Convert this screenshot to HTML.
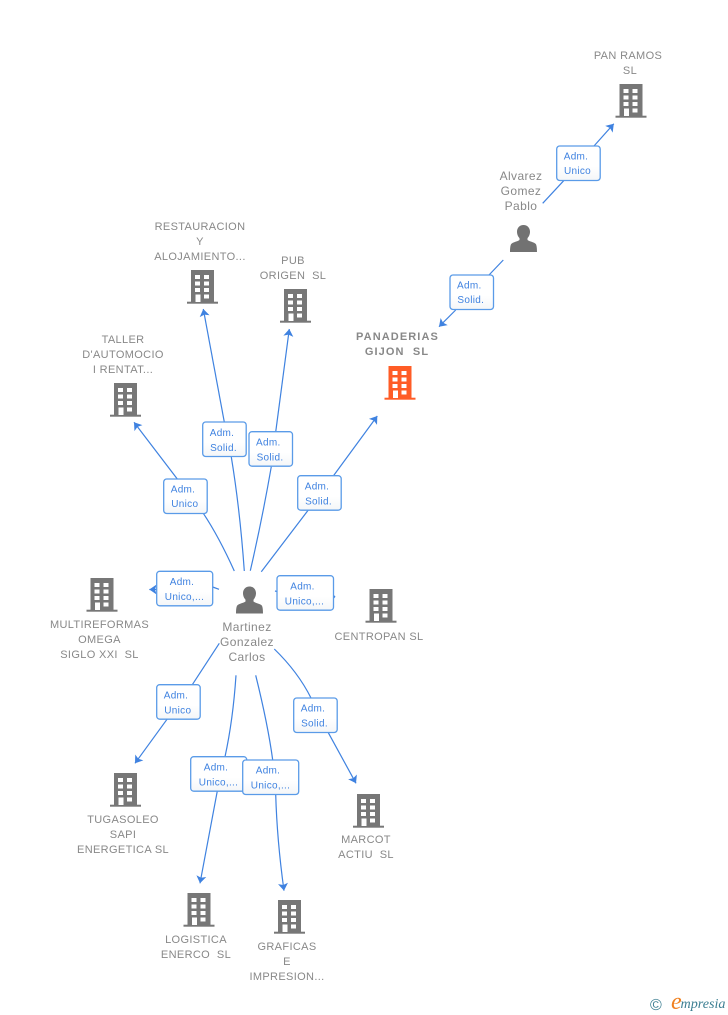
<!DOCTYPE html>
<html>
<head>
<meta charset="utf-8">
<style>
html,body{margin:0;padding:0;background:#fff;width:728px;height:1015px;overflow:hidden}
svg{display:block}
text{font-family:"Liberation Sans",sans-serif}
.n{font-size:11px;fill:#888;text-anchor:middle;letter-spacing:.35px}
.p{font-size:12px;fill:#888;text-anchor:middle;letter-spacing:.4px}
.b{font-weight:bold;letter-spacing:1.1px}
.l{font-size:10px;fill:#3f82e0;text-anchor:middle;letter-spacing:.3px}
.c{fill:none;stroke:#3f82e0;stroke-width:1.2}
.a{marker-end:url(#ah)}
.x{fill:url(#g);stroke:#5a9be8;stroke-width:1.3}
</style>
</head>
<body>
<svg width="728" height="1015" viewBox="0 0 728 1015" xmlns="http://www.w3.org/2000/svg">
<defs>
<linearGradient id="g" x1="0" y1="0" x2="0" y2="1"><stop offset="0" stop-color="#fff"/><stop offset=".6" stop-color="#fff"/><stop offset="1" stop-color="#f4f6f8"/></linearGradient>
<marker id="ah" markerUnits="userSpaceOnUse" markerWidth="12" markerHeight="12" refX="9.5" refY="6" orient="auto" viewBox="0 0 12 12"><path d="M9.5,6 L2.2,1 L3.8,6 L2.2,11 Z" fill="#3f82e0"/></marker>
<symbol id="bd" width="32" height="34" viewBox="0 0 32 34" overflow="visible">
<rect x="4.5" y="0" width="23" height="32.5" fill="currentColor"/>
<rect x="0.5" y="31.7" width="31" height="2" fill="currentColor"/>
<g fill="#fff">
<rect x="8.5" y="5" width="5" height="4"/><rect x="17.5" y="5" width="5" height="4"/>
<rect x="8.5" y="11.5" width="5" height="4"/><rect x="17.5" y="11.5" width="5" height="4"/>
<rect x="8.5" y="18" width="5" height="4"/><rect x="17.5" y="18" width="5" height="4"/>
<rect x="9" y="24.5" width="5" height="7.5"/><rect x="17.5" y="24.5" width="5" height="4"/>
</g>
</symbol>
<symbol id="pr" width="27" height="27" viewBox="0 0 27 27">
<path d="M13.5,0 C17.5,0 20,3 20,6.8 C20,10 18.5,12 17.5,13.2 L17.5,15 C20,16.8 24,17 25.8,19 C26.8,20.5 27,24 27,27 L0,27 C0,24 .2,20.5 1.2,19 C3,17 7,16.8 9.5,15 L9.5,13.2 C8.5,12 7,10 7,6.8 C7,3 9.5,0 13.5,0 Z" fill="#727272"/>
</symbol>
</defs>

<!-- connectors -->
<path class="c" d="M542.7,203.3 L563.7,180.7"/>
<path class="c a" d="M594,146 L613.8,123.8"/>
<path class="c" d="M503.3,260 L489,275"/>
<path class="c a" d="M455.7,310 L439,326.7"/>
<path class="c a" d="M177.3,479 L134,422.3"/>
<path class="c" d="M203.3,513.3 Q219,537 234.3,571"/>
<path class="c a" d="M224.3,422 L203.3,309"/>
<path class="c" d="M231.3,457 Q240,510 244.3,571"/>
<path class="c a" d="M275.7,432 L289.3,329"/>
<path class="c" d="M271.3,466.7 Q262,520 250.3,570.7"/>
<path class="c a" d="M333.3,476 L377.3,416"/>
<path class="c" d="M308.3,510 L261.3,571.7"/>
<path class="c" d="M212.7,587 L219,589.3"/>
<path class="c a" d="M157,589.5 L149.3,589.5"/>
<path class="c" d="M275,591 L277,591.5"/>
<path d="M333.5,594.5 L335.5,596.7 L333.5,599 Z" fill="#3f82e0"/>
<path class="c" d="M219.3,643.3 L192.3,684.7"/>
<path class="c a" d="M167,719.3 L135,763.3"/>
<path class="c" d="M236,675.3 Q233,720 225,756.7"/>
<path class="c a" d="M217.3,791 L200,883.3"/>
<path class="c" d="M255.7,675.3 Q268,725 272.7,760"/>
<path class="c a" d="M275.7,794.3 Q277,840 284,890.7"/>
<path class="c" d="M274.3,649 Q298,672 311,698"/>
<path class="c a" d="M328.3,732.7 L356,783.3"/>

<!-- connector labels -->
<rect class="x" x="556.7" y="146" width="43.5" height="34.5" rx="3"/>
<text class="l" x="576" y="159.5">Adm.</text><text class="l" x="577.5" y="174">Unico</text>
<rect class="x" x="450" y="275" width="43.5" height="34.5" rx="3"/>
<text class="l" x="469.3" y="288.5">Adm.</text><text class="l" x="470.8" y="303">Solid.</text>
<rect class="x" x="163.7" y="479" width="43.5" height="34.5" rx="3"/>
<text class="l" x="183" y="492.5">Adm.</text><text class="l" x="184.8" y="507">Unico</text>
<rect class="x" x="202.7" y="422" width="43.5" height="34.5" rx="3"/>
<text class="l" x="222" y="436">Adm.</text><text class="l" x="223.5" y="451">Solid.</text>
<rect class="x" x="249" y="431.7" width="43.5" height="34.5" rx="3"/>
<text class="l" x="268.3" y="445.5">Adm.</text><text class="l" x="270" y="460.5">Solid.</text>
<rect class="x" x="297.7" y="475.7" width="43.5" height="34.5" rx="3"/>
<text class="l" x="317" y="489.5">Adm.</text><text class="l" x="318.5" y="504.5">Solid.</text>
<rect class="x" x="156.7" y="571.3" width="56" height="34.5" rx="3"/>
<text class="l" x="182" y="585">Adm.</text><text class="l" x="184.5" y="600">Unico,...</text>
<rect class="x" x="277" y="575.7" width="56.5" height="34.5" rx="3"/>
<text class="l" x="302.5" y="589.5">Adm.</text><text class="l" x="304.5" y="604.5">Unico,...</text>
<rect class="x" x="156.7" y="684.7" width="43.5" height="34.5" rx="3"/>
<text class="l" x="176" y="698.5">Adm.</text><text class="l" x="177.8" y="713.5">Unico</text>
<rect class="x" x="293.7" y="698" width="43.5" height="34.5" rx="3"/>
<text class="l" x="313" y="711.5">Adm.</text><text class="l" x="314.5" y="726.5">Solid.</text>
<rect class="x" x="190.7" y="756.7" width="56" height="34.5" rx="3"/>
<text class="l" x="216" y="770.5">Adm.</text><text class="l" x="218.5" y="785.5">Unico,...</text>
<rect class="x" x="242.7" y="760" width="56" height="34.5" rx="3"/>
<text class="l" x="268" y="773.5">Adm.</text><text class="l" x="270.5" y="788.5">Unico,...</text>

<!-- buildings -->
<g color="#777">
<use href="#bd" x="615" y="84" width="32" height="34"/>
<use href="#bd" x="186.5" y="270" width="32" height="34"/>
<use href="#bd" x="279.5" y="289" width="32" height="34"/>
<use href="#bd" x="109.5" y="383" width="32" height="34"/>
<use href="#bd" x="86" y="578" width="32" height="34"/>
<use href="#bd" x="365" y="589" width="32" height="34"/>
<use href="#bd" x="109.5" y="773" width="32" height="34"/>
<use href="#bd" x="352.5" y="794" width="32" height="34"/>
<use href="#bd" x="183" y="893" width="32" height="34"/>
<use href="#bd" x="273.5" y="900" width="32" height="34"/>
</g>
<g color="#ff5c26"><use href="#bd" x="384" y="366" width="32" height="34"/></g>

<!-- persons -->
<use href="#pr" x="510" y="225" width="27" height="27"/>
<use href="#pr" x="236" y="586.5" width="27" height="27"/>

<!-- node labels -->
<text class="n" x="628" y="59">PAN RAMOS</text><text class="n" x="630" y="74">SL</text>
<text class="p" x="521" y="180">Alvarez</text><text class="p" x="521" y="195">Gomez</text><text class="p" x="521" y="210">Pablo</text>
<text class="n b" x="397.5" y="340">PANADERIAS</text><text class="n b" x="397" y="355">GIJON&#160;&#160;SL</text>
<text class="n" x="200" y="230">RESTAURACION</text><text class="n" x="200" y="245">Y</text><text class="n" x="200" y="260">ALOJAMIENTO...</text>
<text class="n" x="293" y="264">PUB</text><text class="n" x="293" y="279">ORIGEN&#160;&#160;SL</text>
<text class="n" x="123" y="343">TALLER</text><text class="n" x="123" y="358">D'AUTOMOCIO</text><text class="n" x="123" y="373">I RENTAT...</text>
<text class="n" x="99.5" y="628">MULTIREFORMAS</text><text class="n" x="99.5" y="643">OMEGA</text><text class="n" x="99.5" y="658">SIGLO XXI&#160;&#160;SL</text>
<text class="n" x="379" y="640">CENTROPAN SL</text>
<text class="p" x="247" y="631">Martinez</text><text class="p" x="247" y="646">Gonzalez</text><text class="p" x="247" y="661">Carlos</text>
<text class="n" x="123" y="823">TUGASOLEO</text><text class="n" x="123" y="838">SAPI</text><text class="n" x="123" y="853">ENERGETICA SL</text>
<text class="n" x="366" y="843">MARCOT</text><text class="n" x="366" y="858">ACTIU&#160;&#160;SL</text>
<text class="n" x="196" y="943">LOGISTICA</text><text class="n" x="196" y="958">ENERCO&#160;&#160;SL</text>
<text class="n" x="287" y="950">GRAFICAS</text><text class="n" x="287" y="965">E</text><text class="n" x="287" y="980">IMPRESION...</text>

<!-- logo -->
<text x="650" y="1009.8" style="font-size:16px;fill:#3d7f92">©</text>
<text x="671" y="1009" style="font-family:'Liberation Serif',serif;font-size:24px;font-style:italic;fill:#f08020">e</text>
<text x="680.5" y="1008" textLength="45" lengthAdjust="spacingAndGlyphs" style="font-family:'Liberation Serif',serif;font-size:14px;font-style:italic;fill:#3d7f92">mpresia</text>
</svg>
</body>
</html>
